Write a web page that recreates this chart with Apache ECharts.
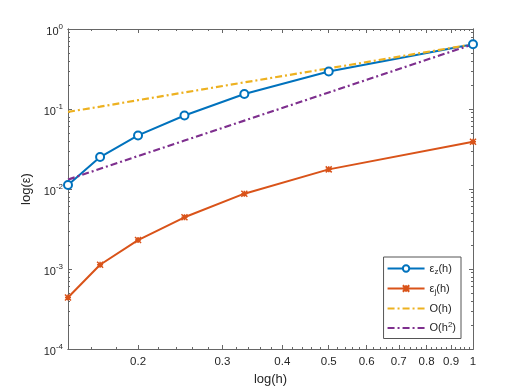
<!DOCTYPE html>
<html>
<head>
<meta charset="utf-8">
<script src="https://cdn.jsdelivr.net/npm/echarts@6/dist/echarts.min.js"></script>
<style>
  html, body { margin: 0; padding: 0; background: #fff; }
  #chart { width: 523px; height: 392px; }
</style>
</head>
<body>
<div id="chart"></div>
<script>
// step sizes h and the measured errors
const hValues = [1/7, 1/6, 1/5, 1/4, 1/3, 1/2, 1];
const errZ = [0.0112, 0.0251, 0.0467, 0.083, 0.154, 0.294, 0.644];
const errJ = [0.00044, 0.00113, 0.0023, 0.00443, 0.00874, 0.0176, 0.039];
const orderH = [0.092, 0.107, 0.129, 0.161, 0.215, 0.322, 0.644];
const orderH2 = [0.0131, 0.0179, 0.0258, 0.0403, 0.0716, 0.161, 0.644];

// ticks
const xMajor = [0.2, 0.3, 0.4, 0.5, 0.6, 0.7, 0.8, 0.9, 1];
const xMinor = [0.16, 0.18, 0.22, 0.24, 0.26, 0.28, 0.32, 0.34, 0.36, 0.38,
  0.42, 0.44, 0.46, 0.48, 0.52, 0.54, 0.56, 0.58, 0.62, 0.64, 0.66, 0.68,
  0.72, 0.74, 0.76, 0.78, 0.82, 0.84, 0.86, 0.88, 0.92, 0.94, 0.96, 0.98];
const yMajor = [1e-4, 1e-3, 1e-2, 1e-1, 1];
const yMinor = [2e-4, 3e-4, 4e-4, 5e-4, 6e-4, 7e-4, 8e-4, 9e-4,
  2e-3, 3e-3, 4e-3, 5e-3, 6e-3, 7e-3, 8e-3, 9e-3,
  2e-2, 3e-2, 4e-2, 5e-2, 6e-2, 7e-2, 8e-2, 9e-2,
  0.2, 0.3, 0.4, 0.5, 0.6, 0.7, 0.8, 0.9];

const axisColor = '#666';
const textColor = '#262626';
const font = 'Liberation Sans';

function pairs(ys) {
  return hValues.map((h, i) => [h, ys[i]]);
}

function xAx(pos, ticks, len, withLabels) {
  let ax = {
    type: 'log', position: pos, min: 1/7, max: 1,
    axisLine: { show: true, onZero: false, lineStyle: { color: axisColor, width: 1 } },
    axisTick: { show: true, inside: true, length: len, customValues: ticks, lineStyle: { color: axisColor } },
    axisLabel: { show: false },
    splitLine: { show: false }
  };
  if (withLabels) {
    ax.axisLabel = {
      show: true, customValues: xMajor, margin: 7,
      color: textColor, fontFamily: font, fontSize: 11.5,
      formatter: v => String(+v.toFixed(2))
    };
    ax.name = 'log(h)';
    ax.nameLocation = 'middle';
    ax.nameGap = 24;
    ax.nameTextStyle = { color: textColor, fontFamily: font, fontSize: 13 };
  }
  return ax;
}

function yAx(pos, ticks, len, withLabels) {
  let ax = {
    type: 'log', position: pos, min: 1e-4, max: 1,
    axisLine: { show: true, onZero: false, lineStyle: { color: axisColor, width: 1 } },
    axisTick: { show: true, inside: true, length: len, customValues: ticks, lineStyle: { color: axisColor } },
    axisLabel: { show: false },
    splitLine: { show: false }
  };
  if (withLabels) {
    ax.axisLabel = {
      show: true, customValues: yMajor, margin: 5,
      color: textColor, fontFamily: font,
      formatter: v => '{b|10}{s|' + Math.round(Math.log10(v)) + '}',
      rich: {
        b: { fontSize: 11, fontFamily: font, color: textColor, padding: [6, 0, 0, 0] },
        s: { fontSize: 8, fontFamily: font, color: textColor, padding: [0, 0, 4, 0] }
      }
    };
    ax.name = 'log(ε)';
    ax.nameLocation = 'middle';
    ax.nameGap = 32;
    ax.nameTextStyle = { color: textColor, fontFamily: font, fontSize: 13 };
  }
  return ax;
}

const legendNames = {
  'ez': '{t|ε}{sub|z}{t|(h)}',
  'ej': '{t|ε}{sub|j}{t|(h)}',
  'Oh': '{t|O(h)}',
  'Oh2': '{t|O(h}{sup|2}{t|)}'
};

const chart = echarts.init(document.getElementById('chart'));
chart.setOption({
  animation: false,
  backgroundColor: '#fff',
  grid: { left: 68, right: 50, top: 29, bottom: 43 },
  xAxis: [
    xAx('bottom', xMajor, 4, true),
    xAx('bottom', xMinor, 2, false),
    xAx('top', xMajor, 4, false),
    xAx('top', xMinor, 2, false)
  ],
  yAxis: [
    yAx('left', yMajor, 4, true),
    yAx('left', yMinor, 2, false),
    yAx('right', yMajor, 4, false),
    yAx('right', yMinor, 2, false)
  ],
  legend: {
    orient: 'vertical', right: 62, top: 257,
    itemWidth: 37, itemHeight: 8, itemGap: 7,
    padding: [6, 5, 5, 3],
    backgroundColor: '#fff', borderColor: '#555', borderWidth: 1, borderRadius: 0,
    formatter: name => legendNames[name],
    textStyle: {
      color: textColor, fontFamily: font, fontSize: 11,
      rich: {
        t: { fontSize: 11, fontFamily: font, color: textColor },
        sub: { fontSize: 8, fontFamily: font, color: textColor, padding: [7, 0, 0, 0] },
        sup: { fontSize: 8, fontFamily: font, color: textColor, padding: [0, 0, 6, 0] }
      }
    },
    data: [
      { name: 'ez' },
      { name: 'ej' },
      { name: 'Oh', itemStyle: { opacity: 0 } },
      { name: 'Oh2', itemStyle: { opacity: 0 } }
    ]
  },
  series: [
    {
      name: 'ez', type: 'line', data: pairs(errZ), clip: false,
      symbol: 'circle', symbolSize: 8,
      itemStyle: { color: '#fff', borderColor: '#0072BD', borderWidth: 2 },
      lineStyle: { color: '#0072BD', width: 2 }
    },
    {
      name: 'ej', type: 'line', data: pairs(errJ), clip: false,
      symbol: 'path://M0,0L10,10M10,0L0,10M5,0L5,10M0,5L10,5', symbolSize: 6,
      itemStyle: { color: '#D95319', borderColor: '#D95319', borderWidth: 1.5 },
      lineStyle: { color: '#D95319', width: 2 }
    },
    {
      name: 'Oh', type: 'line', data: pairs(orderH), clip: false,
      symbol: 'none', itemStyle: { color: '#EDB120' },
      lineStyle: { color: '#EDB120', width: 2.2, type: [7, 3, 2, 3] }
    },
    {
      name: 'Oh2', type: 'line', data: pairs(orderH2), clip: false,
      symbol: 'none', itemStyle: { color: '#7E2F8E' },
      lineStyle: { color: '#7E2F8E', width: 2.2, type: [7, 3, 2, 3] }
    }
  ]
});
</script>
</body>
</html>
